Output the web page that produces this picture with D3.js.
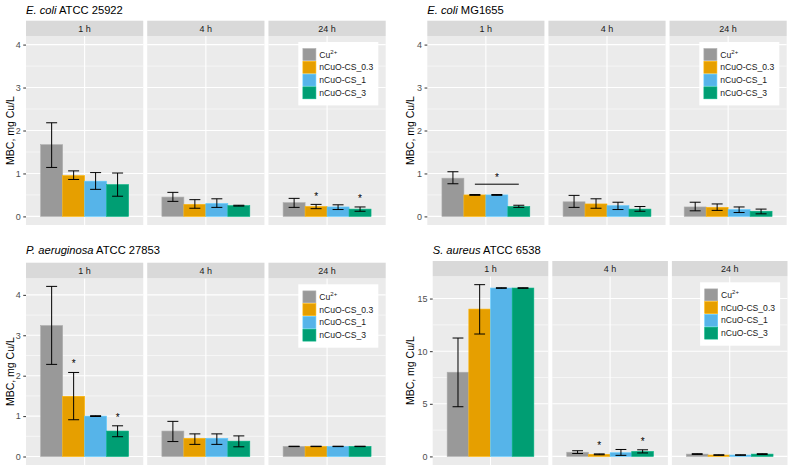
<!DOCTYPE html>
<html><head><meta charset="utf-8">
<script src="https://cdn.jsdelivr.net/npm/d3@7"></script>
<style>body{margin:0;background:#fff}svg{display:block;font-family:"Liberation Sans",Arial,sans-serif}</style>
</head><body><svg id="c" width="789" height="467"></svg>
<script>
// ---------- data ----------
const series = ["Cu2+", "nCuO-CS_0.3", "nCuO-CS_1", "nCuO-CS_3"];
const times = ["1 h", "4 h", "24 h"];
const yTicksSmall = [0, 1, 2, 3, 4];
const yTicksSaureus = [0, 5, 10, 15];

// rows = times (1 h, 4 h, 24 h); columns = series
const ecoliATCC_mean = [[1.67, 0.95, 0.82, 0.74], [0.45, 0.28, 0.30, 0.25], [0.32, 0.23, 0.22, 0.17]];
const ecoliATCC_lo   = [[1.14, 0.86, 0.63, 0.47], [0.35, 0.19, 0.21, 0.24], [0.21, 0.18, 0.16, 0.12]];
const ecoliATCC_hi   = [[2.18, 1.06, 1.02, 1.01], [0.56, 0.39, 0.41, 0.26], [0.42, 0.28, 0.27, 0.22]];

const ecoliMG_mean = [[0.89, 0.50, 0.50, 0.23], [0.34, 0.29, 0.25, 0.17], [0.22, 0.21, 0.16, 0.12]];
const ecoliMG_lo   = [[0.76, 0.49, 0.49, 0.21], [0.21, 0.19, 0.16, 0.12], [0.13, 0.14, 0.09, 0.06]];
const ecoliMG_hi   = [[1.04, 0.51, 0.51, 0.26], [0.49, 0.41, 0.33, 0.23], [0.33, 0.29, 0.22, 0.17]];

const paer_mean = [[3.24, 1.49, 1.00, 0.63], [0.63, 0.45, 0.45, 0.38], [0.25, 0.25, 0.25, 0.25]];
const paer_lo   = [[2.28, 0.91, 0.99, 0.49], [0.37, 0.30, 0.30, 0.24], [0.245, 0.245, 0.245, 0.245]];
const paer_hi   = [[4.21, 2.08, 1.01, 0.76], [0.87, 0.56, 0.56, 0.51], [0.255, 0.255, 0.255, 0.255]];

const saur_mean = [[8.0, 14.0, 16.0, 16.0], [0.40, 0.20, 0.35, 0.47], [0.22, 0.13, 0.13, 0.22]];
const saur_lo   = [[4.72, 11.63, 15.97, 15.97], [0.28, 0.16, 0.10, 0.33], [0.19, 0.10, 0.10, 0.18]];
const saur_hi   = [[11.25, 16.32, 16.03, 16.03], [0.54, 0.24, 0.66, 0.63], [0.26, 0.16, 0.16, 0.26]];

// significance marks: time index, series index, y value of the star
const ecoliATCC_stars = [[2, 1, 0.51], [2, 3, 0.46]];
const ecoliMG_stars = [[0, 2, 0.96]];
const ecoliMG_bracket = [[0, 1, 3, 0.75]]; // time, from series, to series, y
const paer_stars = [[0, 1, 2.36], [0, 3, 1.02]];
const saur_stars = [[1, 1, 1.23], [1, 3, 1.64]];

// ---------- styles ----------
const colors = ["#999999", "#E69F00", "#56B4E9", "#009E73"];
const svg = d3.select("#c");

const subplots = [
  {italic: "E. coli", rest: " ATCC 25922", mean: ecoliATCC_mean, lo: ecoliATCC_lo, hi: ecoliATCC_hi,
   stars: ecoliATCC_stars, brackets: [], ylim: [0, 4], ticks: yTicksSmall,
   x0: 26, x1: 385.7, stripTop: 20.7, plotTop: 36, plotBottom: 225, titleY: 14, axisTitleX: 13.5},
  {italic: "E. coli", rest: " MG1655", mean: ecoliMG_mean, lo: ecoliMG_lo, hi: ecoliMG_hi,
   stars: ecoliMG_stars, brackets: ecoliMG_bracket, ylim: [0, 4], ticks: yTicksSmall,
   x0: 427.3, x1: 786.7, stripTop: 20.7, plotTop: 36, plotBottom: 225, titleY: 14, axisTitleX: 414},
  {italic: "P. aeruginosa", rest: " ATCC 27853", mean: paer_mean, lo: paer_lo, hi: paer_hi,
   stars: paer_stars, brackets: [], ylim: [0, 4.2], ticks: yTicksSmall,
   x0: 26, x1: 385.7, stripTop: 262.7, plotTop: 278.3, plotBottom: 465, titleY: 254, axisTitleX: 13.5},
  {italic: "S. aureus", rest: " ATCC 6538", mean: saur_mean, lo: saur_lo, hi: saur_hi,
   stars: saur_stars, brackets: [], ylim: [0, 16.3], ticks: yTicksSaureus,
   x0: 432.7, x1: 787.5, stripTop: 261, plotTop: 276.3, plotBottom: 465, titleY: 254, axisTitleX: 414.3}
];

const GAP = 4;

function drawSubplot(cfg) {
  const g = svg.append("g");
  const panelW = (cfg.x1 - cfg.x0 - 2 * GAP) / 3;
  const panel = d3.scaleBand().domain(times).range([cfg.x0, cfg.x1])
    .paddingInner(GAP / (panelW + GAP)).paddingOuter(0);
  const span = cfg.ylim[1] - cfg.ylim[0];
  const y = d3.scaleLinear()
    .domain([cfg.ylim[0] - 0.05 * span, cfg.ylim[1] + 0.05 * span])
    .range([cfg.plotBottom, cfg.plotTop]);
  const step = cfg.ticks[1] - cfg.ticks[0];
  const minor = cfg.ticks.map(t => t + step / 2).filter(v => v < y.domain()[1]);

  // title
  const tt = g.append("text").attr("x", cfg.x0).attr("y", cfg.titleY)
    .attr("font-size", 11.2).attr("fill", "#000");
  tt.append("tspan").attr("font-style", "italic").text(cfg.italic);
  tt.append("tspan").text(cfg.rest);

  // axis title
  g.append("text")
    .attr("transform", `translate(${cfg.axisTitleX},${(cfg.plotTop + cfg.plotBottom) / 2}) rotate(-90)`)
    .attr("text-anchor", "middle").attr("font-size", 10.5).attr("fill", "#000")
    .text("MBC, mg Cu/L");

  times.forEach((t, ti) => {
    const px = panel(t), pw = panel.bandwidth();
    const xs = d3.scaleLinear().domain([0.4, 1.6]).range([px, px + pw]);
    const pg = g.append("g");
    pg.append("rect").attr("x", px).attr("y", cfg.plotTop).attr("width", pw)
      .attr("height", cfg.plotBottom - cfg.plotTop).attr("fill", "#EBEBEB");
    pg.selectAll(".mn").data(minor).join("line")
      .attr("x1", px).attr("x2", px + pw).attr("y1", d => y(d)).attr("y2", d => y(d))
      .attr("stroke", "#fff").attr("stroke-width", 0.55);
    pg.selectAll(".mj").data(cfg.ticks).join("line")
      .attr("x1", px).attr("x2", px + pw).attr("y1", d => y(d)).attr("y2", d => y(d))
      .attr("stroke", "#fff").attr("stroke-width", 1.1);
    pg.append("line").attr("x1", xs(1)).attr("x2", xs(1)).attr("y1", cfg.plotTop).attr("y2", cfg.plotBottom)
      .attr("stroke", "#fff").attr("stroke-width", 1.1);

    // strip
    pg.append("rect").attr("x", px).attr("y", cfg.stripTop).attr("width", pw)
      .attr("height", cfg.plotTop - cfg.stripTop).attr("fill", "#D9D9D9");
    pg.append("text").attr("x", px + pw / 2).attr("y", (cfg.stripTop + cfg.plotTop) / 2 + 3.2)
      .attr("text-anchor", "middle").attr("font-size", 9).attr("fill", "#1A1A1A").text(t);

    // bars
    const rows = series.map((s, si) => ({si, m: cfg.mean[ti][si], lo: cfg.lo[ti][si], hi: cfg.hi[ti][si]}));
    const bx = si => 0.55 + si * 0.225;
    pg.selectAll(".bar").data(rows).join("rect")
      .attr("x", d => xs(bx(d.si))).attr("width", d => xs(bx(d.si) + 0.225) - xs(bx(d.si)))
      .attr("y", d => y(d.m)).attr("height", d => y(0) - y(d.m))
      .attr("fill", d => colors[d.si])
      .attr("stroke", d => d3.color(colors[d.si]).brighter(0.35)).attr("stroke-width", 0.6);
    // error bars
    const eb = pg.selectAll(".eb").data(rows).join("g");
    const cx = d => xs(bx(d.si) + 0.1125);
    const cw = 0.05625;
    eb.append("line").attr("x1", cx).attr("x2", cx).attr("y1", d => y(d.lo)).attr("y2", d => y(d.hi));
    eb.append("line").attr("x1", d => xs(bx(d.si) + 0.1125 - cw)).attr("x2", d => xs(bx(d.si) + 0.1125 + cw))
      .attr("y1", d => y(d.lo)).attr("y2", d => y(d.lo));
    eb.append("line").attr("x1", d => xs(bx(d.si) + 0.1125 - cw)).attr("x2", d => xs(bx(d.si) + 0.1125 + cw))
      .attr("y1", d => y(d.hi)).attr("y2", d => y(d.hi));
    eb.selectAll("line").attr("stroke", "#000").attr("stroke-width", 1);

    // stars
    cfg.stars.filter(s => s[0] === ti).forEach(s => {
      pg.append("text").attr("x", xs(bx(s[1]) + 0.1125)).attr("y", y(s[2]) + 5.6)
        .attr("text-anchor", "middle").attr("font-size", 10).attr("fill", "#000").text("*");
    });
    cfg.brackets.filter(b => b[0] === ti).forEach(b => {
      pg.append("line").attr("x1", xs(bx(b[1]) + 0.1125)).attr("x2", xs(bx(b[2]) + 0.1125))
        .attr("y1", y(b[3])).attr("y2", y(b[3])).attr("stroke", "#000").attr("stroke-width", 1);
    });

    // legend in last panel
    if (ti === 2) {
      const lw = 80, lh = 63.4;
      const lx = px + pw - 7.4 - lw, ly = cfg.plotTop + 6;
      const lg = pg.append("g");
      lg.append("rect").attr("x", lx).attr("y", ly).attr("width", lw).attr("height", lh).attr("fill", "#fff");
      const kstep = 12.75;
      series.forEach((s, si) => {
        const ky = ly + 6.2 + si * kstep;
        lg.append("rect").attr("x", lx + 4.6).attr("y", ky + 0.4).attr("width", 13).attr("height", kstep - 0.8)
          .attr("fill", colors[si]).attr("stroke", d3.color(colors[si]).brighter(0.35)).attr("stroke-width", 0.6);
        const tx = lg.append("text").attr("x", lx + 21).attr("y", ky + kstep / 2 + 3)
          .attr("font-size", 8.6).attr("fill", "#1A1A1A");
        if (si === 0) {
          tx.append("tspan").text("Cu");
          tx.append("tspan").attr("font-size", 6).attr("dy", -3.5).text("2+");
        } else {
          tx.text(s);
        }
      });
    }
  });

  // y axis
  const ax = g.append("g").attr("transform", `translate(${cfg.x0},0)`)
    .call(d3.axisLeft(y).tickValues(cfg.ticks).tickSize(2.75).tickPadding(2.5).tickFormat(d3.format("d")));
  ax.select(".domain").remove();
  ax.selectAll(".tick line").attr("stroke", "#333").attr("stroke-width", 1);
  ax.selectAll(".tick text").attr("fill", "#4D4D4D").attr("font-size", 9)
    .attr("font-family", '"Liberation Sans",Arial,sans-serif');
}

subplots.forEach(drawSubplot);
</script></body></html>
